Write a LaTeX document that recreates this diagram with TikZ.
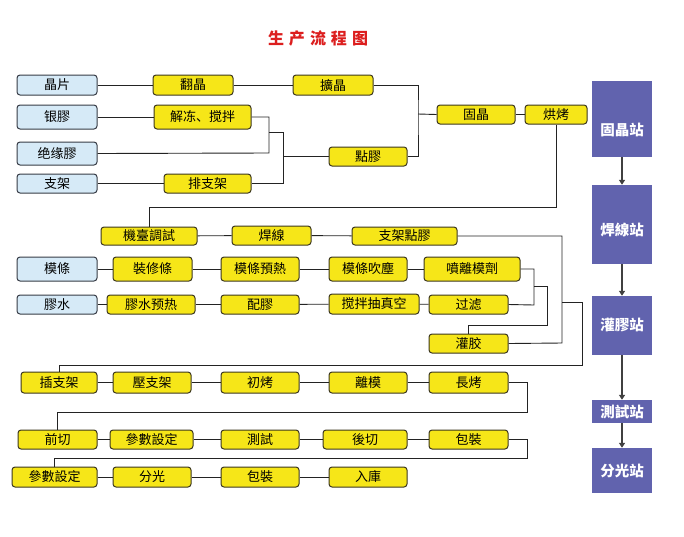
\documentclass[tikz,border=0pt]{standalone}
\usepackage{fontspec}
\setmainfont{Noto Sans CJK SC}
\newfontfamily\cjk{Noto Sans CJK SC}
\usetikzlibrary{arrows.meta}
\definecolor{boxyellow}{RGB}{246,230,24}
\definecolor{boxedge}{RGB}{60,55,30}
\definecolor{boxblue}{RGB}{214,234,247}
\definecolor{blueedge}{RGB}{55,60,70}
\definecolor{stationfill}{RGB}{97,99,174}
\definecolor{titlered}{RGB}{220,30,30}
\definecolor{linecol}{RGB}{35,35,35}
\tikzset{
  ybox/.style={draw=boxedge, fill=boxyellow, rounded corners=3pt, line width=1pt, inner sep=0pt, font=\cjk\fontsize{13}{14}\selectfont},
  bbox/.style={draw=blueedge, fill=boxblue, rounded corners=3pt, line width=1pt, inner sep=0pt, font=\cjk\fontsize{13}{14}\selectfont},
  station/.style={fill=stationfill, inner sep=0pt, text=white, font=\cjk\bfseries\fontsize{14.5}{15}\selectfont},
  conn/.style={draw=linecol, line width=0.9pt},
  starrow/.style={draw=black!75, line width=1.4pt, -{Triangle[length=5pt,width=6pt]}},
}
\newcommand\mkbox[7]{%
  \pgfmathsetmacro\bw{#5-#3}\pgfmathsetmacro\bh{#6-#4}%
  \pgfmathsetmacro\bx{(#3+#5)/2}\pgfmathsetmacro\by{(#4+#6)/2}%
  \node[#1,minimum width=\bw pt,minimum height=\bh pt] (#2) at (\bx,\by) {#7};}
\begin{document}
\begin{tikzpicture}[x=1pt,y=-1pt]
\useasboundingbox (0,0) rectangle (684,536);
\fill[white] (0,0) rectangle (684,536);
% title
\node[text=titlered, font=\cjk\bfseries\fontsize{16}{17}\selectfont] (title) at (318,38) {生\hspace{5pt}产\hspace{5pt}流\hspace{5pt}程\hspace{5pt}图};
% row 1-4
\mkbox{bbox}{jingpian}{17}{75}{97}{95}{晶片}
\mkbox{ybox}{fanjing}{153}{75}{233}{95}{翻晶}
\mkbox{ybox}{kuojing}{293}{75}{373}{95}{擴晶}
\mkbox{bbox}{yinjiao}{17}{105}{97}{129}{银膠}
\mkbox{ybox}{jiedong}{154}{105}{251}{129}{解冻、搅拌}
\mkbox{bbox}{juexuan}{17}{142}{97}{165}{绝缘膠}
\mkbox{bbox}{zhijia}{17}{174}{97}{193}{支架}
\mkbox{ybox}{paizhijia}{164}{174}{251}{193}{排支架}
\mkbox{ybox}{dianjiao}{329}{147}{407}{166}{點膠}
\mkbox{ybox}{gujing}{437}{105}{515}{124}{固晶}
\mkbox{ybox}{hongkao}{525}{105}{587}{124}{烘烤}
% row 機臺
\mkbox{ybox}{jitai}{101}{227}{197}{245}{機臺調試}
\mkbox{ybox}{hanxian}{232}{226}{311}{245}{焊線}
\mkbox{ybox}{zjdj}{352}{227}{457}{245}{支架點膠}
% row 模條
\mkbox{bbox}{motiao}{17}{257}{97}{281}{模條}
\mkbox{ybox}{zhuangxiu}{113}{257}{192}{281}{裝修條}
\mkbox{ybox}{mtyure}{221}{257}{299}{281}{模條預熱}
\mkbox{ybox}{mtchuichen}{329}{257}{407}{281}{模條吹塵}
\mkbox{ybox}{penli}{424}{257}{520}{281}{噴離模劑}
% row 膠水
\mkbox{bbox}{jiaoshui}{17}{295}{97}{314}{膠水}
\mkbox{ybox}{jsyure}{107}{295}{195}{314}{膠水预热}
\mkbox{ybox}{peijiao}{221}{295}{299}{314}{配膠}
\mkbox{ybox}{jiaoban}{329}{294}{419}{314}{搅拌抽真空}
\mkbox{ybox}{guolv}{429}{295}{508}{314}{过滤}
\mkbox{ybox}{guanjiao}{429}{334}{508}{353}{灌胶}
% row 插支架
\mkbox{ybox}{chazhijia}{21}{372}{97}{393}{插支架}
\mkbox{ybox}{yazhijia}{113}{372}{191}{393}{壓支架}
\mkbox{ybox}{chukao}{221}{372}{299}{393}{初烤}
\mkbox{ybox}{limo}{329}{372}{407}{393}{離模}
\mkbox{ybox}{changkao}{429}{372}{508}{393}{長烤}
% row 前切
\mkbox{ybox}{qianqie}{18}{430}{97}{449}{前切}
\mkbox{ybox}{canshuA}{110}{430}{193}{449}{參數設定}
\mkbox{ybox}{ceshi}{221}{430}{299}{449}{測試}
\mkbox{ybox}{houqie}{323}{430}{407}{449}{後切}
\mkbox{ybox}{baozhuangA}{429}{430}{508}{449}{包裝}
% row 參數設定
\mkbox{ybox}{canshuB}{12}{467}{97}{487}{參數設定}
\mkbox{ybox}{fenguang}{113}{467}{191}{487}{分光}
\mkbox{ybox}{baozhuangB}{221}{467}{299}{487}{包裝}
\mkbox{ybox}{ruku}{329}{467}{407}{487}{入庫}
% stations
\mkbox{station,text height=32pt,text depth=0pt}{sA}{592}{81}{652}{157}{固晶站}
\mkbox{station,text height=22pt,text depth=0pt}{sB}{592}{185}{652}{264}{焊線站}
\mkbox{station}{sC}{592}{296}{652}{355}{灌膠站}
\mkbox{station}{sD}{592}{400}{652}{423}{測試站}
\mkbox{station}{sE}{592}{448}{652}{493}{分光站}
\draw[starrow] (sA) -- (sB);
\draw[starrow] (sB) -- (sC);
\draw[starrow] (sC) -- (sD);
\draw[starrow] (sD) -- (sE);
% junction coordinates
\coordinate (j1) at (269,153);
\coordinate (j2) at (269,132);
\coordinate (j3) at (283,132);
\coordinate (j4) at (418,114);
\coordinate (j5) at (149,207);
\coordinate (j6) at (562,343);
\coordinate (j7) at (562,302);
\coordinate (j9) at (582,365);
\coordinate (j10) at (534,305);
\coordinate (j11) at (534,286);
\coordinate (j12) at (547,325);
\coordinate (j13) at (527,412);
\coordinate (j14) at (527,458);
% connectors
\draw[conn] (jingpian) -- (fanjing);
\draw[conn] (fanjing) -- (kuojing);
\draw[conn] (yinjiao) -- (jiedong);
\draw[conn] (jiedong.east) -| (j1) -- (juexuan.east);
\draw[conn] (j2) -- (j3) |- (paizhijia.east);
\draw[conn] (zhijia) -- (paizhijia);
\draw[conn] (dianjiao.west) -- (dianjiao.west -| j3);
\draw[conn] (kuojing.east) -| (j4) |- (dianjiao.east);
\draw[conn] (j4) -- (gujing.west);
\draw[conn] (gujing) -- (hongkao);
\draw[conn] (hongkao.south) |- (j5) -- (jitai.north);
\draw[conn] (jitai) -- (hanxian);
\draw[conn] (hanxian) -- (zjdj);
\draw[conn] (zjdj.east) -| (j6) -- (guanjiao.east);
\draw[conn] (j7) -| (j9) -| (chazhijia.north);
\draw[conn] (motiao) -- (zhuangxiu);
\draw[conn] (zhuangxiu) -- (mtyure);
\draw[conn] (mtyure) -- (mtchuichen);
\draw[conn] (mtchuichen) -- (penli);
\draw[conn] (penli.east) -| (j10) -- (guolv.east);
\draw[conn] (j11) -| (j12) -| (guanjiao.north);
\draw[conn] (jiaoshui) -- (jsyure);
\draw[conn] (jsyure) -- (peijiao);
\draw[conn] (peijiao) -- (jiaoban);
\draw[conn] (jiaoban) -- (guolv);
\draw[conn] (chazhijia) -- (yazhijia);
\draw[conn] (yazhijia) -- (chukao);
\draw[conn] (chukao) -- (limo);
\draw[conn] (limo) -- (changkao);
\draw[conn] (changkao.east) -| (j13) -| (qianqie.north);
\draw[conn] (qianqie) -- (canshuA);
\draw[conn] (canshuA) -- (ceshi);
\draw[conn] (ceshi) -- (houqie);
\draw[conn] (houqie) -- (baozhuangA);
\draw[conn] (baozhuangA.east) -| (j14) -| (canshuB.north);
\draw[conn] (canshuB) -- (fenguang);
\draw[conn] (fenguang) -- (baozhuangB);
\draw[conn] (baozhuangB) -- (ruku);
\end{tikzpicture}
\end{document}
